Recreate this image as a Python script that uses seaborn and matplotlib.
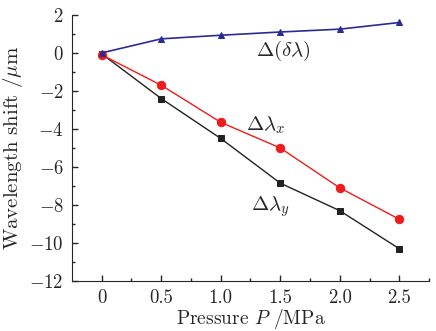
import matplotlib
matplotlib.use("Agg")
import matplotlib.pyplot as plt
import pandas as pd
import seaborn as sns

sns.set_style("ticks")
plt.rcParams["font.family"] = ["serif"]
plt.rcParams["font.serif"] = ["cmr10", "DejaVu Serif"]
plt.rcParams["mathtext.fontset"] = "cm"
plt.rcParams["axes.formatter.use_mathtext"] = True

# data
pressure = [0, 0.5, 1.0, 1.5, 2.0, 2.5]
d_delta_lambda = [0.0, 0.74, 0.93, 1.1, 1.25, 1.6]
d_lambda_x = [-0.1, -1.7, -3.65, -5.0, -7.1, -8.75]
d_lambda_y = [-0.05, -2.4, -4.5, -6.85, -8.3, -10.3]

df = pd.DataFrame({"P": pressure, "dd": d_delta_lambda, "dx": d_lambda_x, "dy": d_lambda_y})

fig = plt.figure(figsize=(4.36, 3.31), dpi=100)
ax = fig.add_axes([0.165, 0.151, 0.819, 0.804])

sns.lineplot(data=df, x="P", y="dy", ax=ax, color="#222222", marker="s",
             markersize=5, markeredgecolor="#222222", linewidth=1)
sns.lineplot(data=df, x="P", y="dx", ax=ax, color="#ee1c1c", marker="o",
             markersize=6, markeredgecolor="#ee1c1c", linewidth=1)
sns.lineplot(data=df, x="P", y="dd", ax=ax, color="#2b2b96", marker="^",
             markersize=5, markeredgecolor="#2b2b96", linewidth=1.2)

ax.set_xlim(-0.25, 2.75)
ax.set_ylim(-12, 2)
ax.set_xticks([0, 0.5, 1.0, 1.5, 2.0, 2.5])
ax.set_xticklabels(["0", "0.5", "1.0", "1.5", "2.0", "2.5"])
ax.set_yticks(range(-12, 3, 2))
ax.set_xticks([0.25, 0.75, 1.25, 1.75, 2.25, 2.75], minor=True)
ax.set_yticks(range(-11, 2, 2), minor=True)
ax.tick_params(direction="in", length=4, width=1, labelsize=13.5, pad=6)
ax.tick_params(which="minor", direction="in", length=2.5, width=1)
sns.despine(ax=ax)

ax.set_xlabel(r"Pressure $P$ /MPa", fontsize=14, labelpad=0)
ax.set_ylabel(r"Wavelength shift /$\mathrm{\mu}$m", fontsize=15, labelpad=3)

ax.text(1.53, 0.1, r"$\Delta(\delta\lambda)$", fontsize=15, ha="center", va="center")
ax.text(1.38, -3.8, r"$\Delta\lambda_x$", fontsize=15, ha="center", va="center")
ax.text(1.42, -8.1, r"$\Delta\lambda_y$", fontsize=15, ha="center", va="center")

fig.savefig("out.png", dpi=100)
